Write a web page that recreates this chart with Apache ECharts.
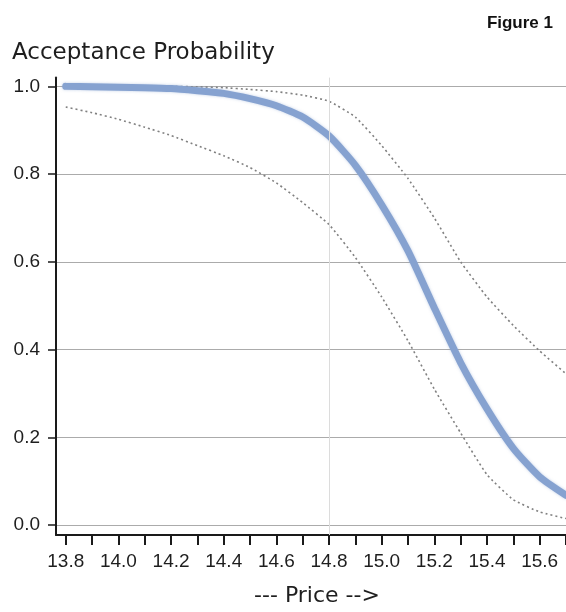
<!DOCTYPE html>
<html>
<head>
<meta charset="utf-8">
<script src="https://cdn.jsdelivr.net/npm/echarts@6/dist/echarts.min.js"></script>
<style>
html,body{margin:0;padding:0;background:#fff;}
#chart{width:566px;height:612px;}
</style>
</head>
<body>
<div id="chart"></div>
<script>
// Data
var prices = [13.8, 13.9, 14.0, 14.1, 14.2, 14.3, 14.4, 14.5, 14.6, 14.7, 14.8, 14.9, 15.0, 15.1, 15.2, 15.3, 15.4, 15.5, 15.6, 15.7];
var acceptProb = [1.0, 0.999, 0.998, 0.997, 0.995, 0.99, 0.984, 0.972, 0.956, 0.93, 0.887, 0.82, 0.73, 0.625, 0.495, 0.37, 0.265, 0.175, 0.11, 0.068];
var upperBound = [1.0, 1.0, 1.0, 1.0, 1.0, 0.999, 0.997, 0.993, 0.988, 0.98, 0.966, 0.93, 0.865, 0.79, 0.70, 0.60, 0.52, 0.455, 0.397, 0.345];
var lowerBound = [0.953, 0.94, 0.925, 0.907, 0.888, 0.865, 0.842, 0.815, 0.78, 0.735, 0.685, 0.61, 0.52, 0.42, 0.31, 0.21, 0.115, 0.058, 0.03, 0.015];
var xLabelValues = [13.8, 14.0, 14.2, 14.4, 14.6, 14.8, 15.0, 15.2, 15.4, 15.6];
var xTickValues = [13.8, 13.9, 14.0, 14.1, 14.2, 14.3, 14.4, 14.5, 14.6, 14.7, 14.8, 14.9, 15.0, 15.1, 15.2, 15.3, 15.4, 15.5, 15.6, 15.7];
var yTickValues = [0.0, 0.2, 0.4, 0.6, 0.8, 1.0];
var refPrice = 14.8;

function pairs(xs, ys) { return xs.map(function (x, i) { return [x, ys[i]]; }); }

var FONT = 'DejaVu Sans';
var TICKFONT = 'Liberation Sans';
var chart = echarts.init(document.getElementById('chart'), null, {renderer: 'canvas'});
chart.setOption({
  backgroundColor: '#ffffff',
  animation: false,
  title: [
    {text: 'Acceptance Probability', left: 7, top: 37,
     textStyle: {fontFamily: FONT, fontSize: 23, fontWeight: 'normal', color: '#1e1e1e'}},
    {text: 'Figure 1', right: 8, top: 10,
     textStyle: {fontFamily: 'Liberation Sans', fontSize: 17, fontWeight: 'bold', color: '#111'}}
  ],
  grid: {left: 56, right: 0, top: 77.6, bottom: 70.3, containLabel: false},
  xAxis: {
    type: 'value', min: 13.763, max: 15.7,
    name: '--- Price -->', nameLocation: 'middle', nameGap: 50,
    nameTextStyle: {fontFamily: FONT, fontSize: 22, color: '#1e1e1e', padding: [0, 0, 0, 12]},
    axisLine: {show: true, onZero: false, lineStyle: {color: '#1a1a1a', width: 2}},
    axisTick: {show: true, length: 10, customValues: xTickValues, lineStyle: {color: '#1a1a1a', width: 2}},
    axisLabel: {customValues: xLabelValues, margin: 17, fontFamily: TICKFONT, fontSize: 19, color: '#1e1e1e',
      formatter: function (v) { return Number(v).toFixed(1); }},
    splitLine: {show: false}
  },
  yAxis: {
    type: 'value', min: -0.0225, max: 1.02,
    axisLine: {show: true, onZero: false, lineStyle: {color: '#1a1a1a', width: 2}},
    axisTick: {show: true, length: 8, customValues: yTickValues, lineStyle: {color: '#1a1a1a', width: 1.5}},
    axisLabel: {customValues: yTickValues, margin: 16, fontFamily: TICKFONT, fontSize: 19, color: '#1e1e1e',
      formatter: function (v) { return Number(v).toFixed(1); }},
    splitLine: {show: true, lineStyle: {color: '#ababab', width: 1.2}}
  },
  series: [
    {
      type: 'line', name: 'Upper', data: pairs(prices, upperBound), symbol: 'none', smooth: 0.15,
      lineStyle: {color: '#808080', width: 1.6, type: [2, 3]}, z: 3,
      markLine: {
        silent: true, symbol: 'none', label: {show: false},
        lineStyle: {color: '#dcdcdc', width: 1, type: 'solid'},
        data: [{xAxis: refPrice}]
      }
    },
    {
      type: 'line', name: 'Lower', data: pairs(prices, lowerBound), symbol: 'none', smooth: 0.15,
      lineStyle: {color: '#808080', width: 1.6, type: [2, 3]}, z: 3
    },
    {
      type: 'line', name: 'Acceptance', data: pairs(prices, acceptProb), symbol: 'none', smooth: 0.2,
      lineStyle: {color: '#86a2d0', width: 7, cap: 'round', join: 'round',
        shadowColor: 'rgba(134,162,208,0.5)', shadowBlur: 3}, z: 4
    }
  ]
});
</script>
</body>
</html>
